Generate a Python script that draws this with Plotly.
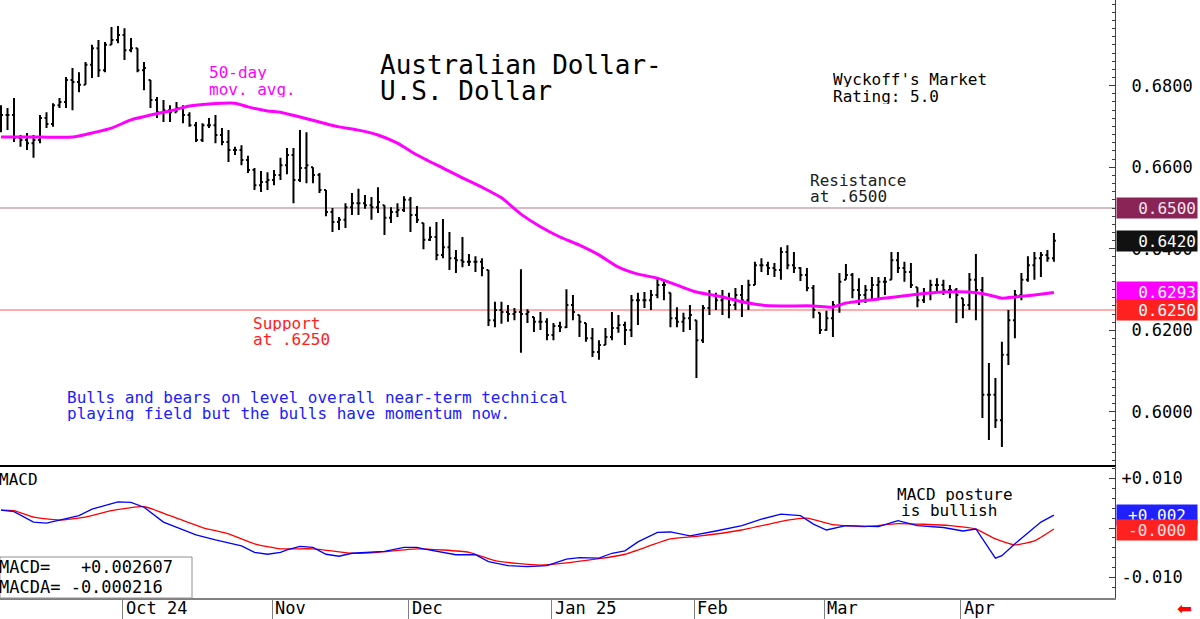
import math
import plotly.graph_objects as go

# ---------------- data ----------------
# one bar per trading day, index 0 = early Sept 2024 ... 162 = Apr 21 2025
opens = [0.6740, 0.6728, 0.6728, 0.6672, 0.6667, 0.6659, 0.6667, 0.6721, 0.6706, 0.6752,
         0.6760, 0.6814, 0.6809, 0.6802, 0.6851, 0.6892, 0.6838, 0.6900, 0.6912, 0.6924,
         0.6887, 0.6892, 0.6838, 0.6814, 0.6765, 0.6735, 0.6740, 0.6735, 0.6745, 0.6728,
         0.6703, 0.6667, 0.6703, 0.6703, 0.6679, 0.6662, 0.6642, 0.6642, 0.6618, 0.6593,
         0.6556, 0.6564, 0.6569, 0.6581, 0.6605, 0.6630, 0.6569, 0.6598, 0.6600, 0.6581,
         0.6544, 0.6490, 0.6466, 0.6471, 0.6502, 0.6512, 0.6512, 0.6507, 0.6502, 0.6507,
         0.6476, 0.6490, 0.6495, 0.6520, 0.6483, 0.6463, 0.6422, 0.6429, 0.6385, 0.6404,
         0.6377, 0.6372, 0.6368, 0.6368, 0.6368, 0.6348, 0.6225, 0.6250, 0.6245, 0.6240,
         0.6245, 0.6240, 0.6233, 0.6221, 0.6221, 0.6189, 0.6211, 0.6208, 0.6262, 0.6238,
         0.6218, 0.6181, 0.6147, 0.6164, 0.6184, 0.6206, 0.6213, 0.6201, 0.6274, 0.6274,
         0.6274, 0.6287, 0.6311, 0.6292, 0.6230, 0.6221, 0.6230, 0.6225, 0.6176, 0.6255,
         0.6287, 0.6274, 0.6279, 0.6262, 0.6287, 0.6274, 0.6311, 0.6360, 0.6360, 0.6353,
         0.6348, 0.6392, 0.6360, 0.6353, 0.6336, 0.6304, 0.6243, 0.6201, 0.6230, 0.6262,
         0.6324, 0.6336, 0.6299, 0.6287, 0.6299, 0.6311, 0.6319, 0.6324, 0.6372, 0.6353,
         0.6343, 0.6306, 0.6274, 0.6292, 0.6311, 0.6311, 0.6299, 0.6299, 0.6279, 0.6262,
         0.6324, 0.6299, 0.6042, 0.6042, 0.5980, 0.6140, 0.6225, 0.6287, 0.6324, 0.6360,
         0.6377, 0.6385, 0.6377]
highs = [0.6752, 0.6745, 0.6770, 0.6679, 0.6684, 0.6679, 0.6728, 0.6735, 0.6757, 0.6770,
         0.6821, 0.6843, 0.6833, 0.6858, 0.6900, 0.6912, 0.6907, 0.6944, 0.6946, 0.6941,
         0.6917, 0.6892, 0.6858, 0.6814, 0.6772, 0.6765, 0.6752, 0.6760, 0.6752, 0.6735,
         0.6711, 0.6708, 0.6721, 0.6728, 0.6696, 0.6691, 0.6650, 0.6654, 0.6628, 0.6598,
         0.6591, 0.6588, 0.6593, 0.6623, 0.6647, 0.6647, 0.6691, 0.6686, 0.6600, 0.6586,
         0.6544, 0.6500, 0.6478, 0.6512, 0.6537, 0.6547, 0.6532, 0.6527, 0.6551, 0.6507,
         0.6502, 0.6512, 0.6529, 0.6527, 0.6505, 0.6463, 0.6454, 0.6466, 0.6473, 0.6441,
         0.6397, 0.6429, 0.6387, 0.6382, 0.6377, 0.6348, 0.6270, 0.6270, 0.6262, 0.6255,
         0.6350, 0.6252, 0.6233, 0.6245, 0.6230, 0.6218, 0.6221, 0.6301, 0.6287, 0.6238,
         0.6218, 0.6206, 0.6176, 0.6206, 0.6245, 0.6238, 0.6221, 0.6287, 0.6292, 0.6294,
         0.6299, 0.6331, 0.6324, 0.6292, 0.6257, 0.6243, 0.6262, 0.6225, 0.6262, 0.6299,
         0.6292, 0.6299, 0.6292, 0.6304, 0.6311, 0.6324, 0.6368, 0.6377, 0.6368, 0.6365,
         0.6404, 0.6409, 0.6392, 0.6355, 0.6353, 0.6311, 0.6243, 0.6248, 0.6272, 0.6341,
         0.6363, 0.6341, 0.6328, 0.6311, 0.6331, 0.6331, 0.6331, 0.6392, 0.6392, 0.6368,
         0.6365, 0.6306, 0.6304, 0.6324, 0.6328, 0.6324, 0.6311, 0.6304, 0.6279, 0.6341,
         0.6387, 0.6331, 0.6120, 0.6083, 0.6172, 0.6250, 0.6299, 0.6341, 0.6382, 0.6392,
         0.6392, 0.6397, 0.6439]
lows = [0.6686, 0.6691, 0.6662, 0.6650, 0.6642, 0.6623, 0.6659, 0.6696, 0.6699, 0.6745,
        0.6745, 0.6740, 0.6784, 0.6802, 0.6819, 0.6821, 0.6833, 0.6900, 0.6904, 0.6863,
        0.6882, 0.6833, 0.6789, 0.6745, 0.6721, 0.6711, 0.6711, 0.6735, 0.6708, 0.6699,
        0.6662, 0.6662, 0.6696, 0.6659, 0.6654, 0.6613, 0.6630, 0.6605, 0.6586, 0.6544,
        0.6539, 0.6544, 0.6556, 0.6569, 0.6583, 0.6512, 0.6564, 0.6561, 0.6561, 0.6537,
        0.6480, 0.6441, 0.6446, 0.6451, 0.6483, 0.6483, 0.6498, 0.6471, 0.6488, 0.6434,
        0.6463, 0.6478, 0.6490, 0.6441, 0.6463, 0.6399, 0.6419, 0.6372, 0.6377, 0.6348,
        0.6341, 0.6355, 0.6358, 0.6343, 0.6333, 0.6211, 0.6208, 0.6216, 0.6221, 0.6225,
        0.6145, 0.6218, 0.6196, 0.6201, 0.6176, 0.6176, 0.6196, 0.6206, 0.6225, 0.6184,
        0.6172, 0.6135, 0.6128, 0.6164, 0.6176, 0.6194, 0.6164, 0.6184, 0.6213, 0.6255,
        0.6250, 0.6279, 0.6274, 0.6208, 0.6208, 0.6196, 0.6201, 0.6083, 0.6169, 0.6238,
        0.6250, 0.6238, 0.6230, 0.6250, 0.6233, 0.6250, 0.6311, 0.6343, 0.6336, 0.6331,
        0.6324, 0.6350, 0.6341, 0.6321, 0.6296, 0.6230, 0.6191, 0.6199, 0.6184, 0.6243,
        0.6324, 0.6279, 0.6262, 0.6267, 0.6274, 0.6274, 0.6287, 0.6324, 0.6341, 0.6319,
        0.6304, 0.6257, 0.6267, 0.6274, 0.6294, 0.6287, 0.6279, 0.6218, 0.6230, 0.6250,
        0.6225, 0.5985, 0.5931, 0.5961, 0.5914, 0.6115, 0.6181, 0.6274, 0.6319, 0.6324,
        0.6331, 0.6368, 0.6368]
closes = [0.6728, 0.6728, 0.6672, 0.6667, 0.6659, 0.6667, 0.6721, 0.6706, 0.6752, 0.6760,
          0.6814, 0.6809, 0.6802, 0.6851, 0.6892, 0.6838, 0.6900, 0.6912, 0.6924, 0.6887,
          0.6892, 0.6838, 0.6843, 0.6765, 0.6735, 0.6740, 0.6735, 0.6745, 0.6728, 0.6703,
          0.6667, 0.6703, 0.6703, 0.6679, 0.6662, 0.6642, 0.6642, 0.6618, 0.6593, 0.6556,
          0.6564, 0.6569, 0.6581, 0.6605, 0.6630, 0.6569, 0.6598, 0.6605, 0.6581, 0.6544,
          0.6490, 0.6466, 0.6471, 0.6502, 0.6512, 0.6512, 0.6507, 0.6502, 0.6515, 0.6476,
          0.6490, 0.6495, 0.6520, 0.6483, 0.6471, 0.6422, 0.6429, 0.6385, 0.6404, 0.6377,
          0.6372, 0.6368, 0.6368, 0.6368, 0.6353, 0.6225, 0.6250, 0.6245, 0.6240, 0.6245,
          0.6240, 0.6245, 0.6221, 0.6221, 0.6189, 0.6211, 0.6208, 0.6262, 0.6245, 0.6221,
          0.6181, 0.6147, 0.6164, 0.6184, 0.6206, 0.6213, 0.6201, 0.6274, 0.6274, 0.6274,
          0.6287, 0.6311, 0.6311, 0.6230, 0.6221, 0.6230, 0.6238, 0.6176, 0.6255, 0.6287,
          0.6274, 0.6279, 0.6262, 0.6287, 0.6274, 0.6311, 0.6360, 0.6360, 0.6353, 0.6348,
          0.6392, 0.6360, 0.6353, 0.6336, 0.6304, 0.6250, 0.6201, 0.6230, 0.6262, 0.6319,
          0.6336, 0.6299, 0.6287, 0.6299, 0.6311, 0.6319, 0.6319, 0.6372, 0.6353, 0.6343,
          0.6311, 0.6274, 0.6292, 0.6311, 0.6311, 0.6299, 0.6299, 0.6287, 0.6262, 0.6324,
          0.6299, 0.6042, 0.6042, 0.5980, 0.6140, 0.6225, 0.6287, 0.6324, 0.6360, 0.6377,
          0.6385, 0.6377, 0.6420]
bar_index = list(range(len(closes)))

# 50-day moving average
ma_index = [0, 6, 11, 14, 17, 20, 23, 26, 29, 32, 36, 38, 41, 43, 46, 49, 52, 55, 58, 61,
            64, 68, 71, 74, 77, 80, 83, 86, 89, 92, 95, 98, 101, 104, 107, 111, 114, 117, 120, 125,
            128, 130, 135, 140, 145, 149, 152, 154, 156, 159, 162]
ma_values = [0.6674, 0.6674, 0.6674, 0.6684, 0.6696, 0.6716, 0.6728, 0.6738, 0.6750, 0.6755,
             0.6757, 0.6748, 0.6738, 0.6735, 0.6723, 0.6711, 0.6699, 0.6691, 0.6679, 0.6659,
             0.6630, 0.6598, 0.6574, 0.6551, 0.6525, 0.6485, 0.6454, 0.6429, 0.6409, 0.6385,
             0.6355, 0.6338, 0.6328, 0.6311, 0.6294, 0.6282, 0.6270, 0.6262, 0.6260, 0.6260,
             0.6257, 0.6267, 0.6277, 0.6287, 0.6294, 0.6294, 0.6287, 0.6279, 0.6282, 0.6287,
             0.6293]

# MACD (blue) and its signal MACDA (red)
macd_index = [0, 2, 5, 7, 9, 12, 14, 16, 18, 20, 22, 25, 27, 30, 33, 37, 39, 41, 43, 44,
              46, 48, 50, 52, 54, 56, 59, 62, 64, 65, 68, 70, 73, 75, 78, 81, 84, 87, 89, 92,
              94, 96, 98, 101, 103, 106, 110, 114, 117, 120, 123, 125, 127, 130, 135, 138, 141, 145, 148, 150,
              153, 154, 156, 160, 162]
macd_values = [0.0036, 0.0033, 0.0012, 0.0010, 0.0016, 0.0025, 0.0038, 0.0045, 0.0053, 0.0052,
               0.0042, 0.0012, 0.0002, -0.0014, -0.0024, -0.0036, -0.0049, -0.0053, -0.0049, -0.0044,
               -0.0037, -0.0039, -0.0053, -0.0057, -0.0051, -0.0049, -0.0047, -0.0039, -0.0039, -0.0042,
               -0.0049, -0.0054, -0.0054, -0.0068, -0.0076, -0.0078, -0.0076, -0.0063, -0.0060, -0.0061,
               -0.0051, -0.0046, -0.0028, -0.0009, -0.0008, -0.0016, -0.0006, 0.0005, 0.0018, 0.0028,
               0.0025, 0.0008, -0.0004, 0.0005, 0.0003, 0.0015, 0.0005, 0.0001, -0.0006, -0.0002,
               -0.0061, -0.0056, -0.0032, 0.0012, 0.0026]
signal_index = [0, 2, 5, 9, 13, 17, 22, 26, 31, 35, 39, 43, 48, 54, 58, 64, 72, 76, 83, 92,
                96, 103, 107, 114, 121, 124, 128, 133, 138, 146, 150, 153, 156, 159, 162]
signal_values = [0.0036, 0.0035, 0.0022, 0.0016, 0.0022, 0.0035, 0.0043, 0.0025, 0.0001, -0.0012,
                 -0.0032, -0.0042, -0.0042, -0.0051, -0.0049, -0.0042, -0.0049, -0.0066, -0.0075, -0.0062,
                 -0.0053, -0.0022, -0.0017, -0.0004, 0.0016, 0.0020, 0.0007, 0.0003, 0.0009, 0.0005,
                 -0.0002, -0.0022, -0.0034, -0.0026, -0.0002]
macd_last_text = "+0.002607"
macda_last_text = "-0.000216"

resistance = 0.6500
support = 0.6250

month_start_index = [19, 42, 63, 85, 107, 127, 148]
month_labels = ["Oct 24", "Nov", "Dec", "Jan 25", "Feb", "Mar", "Apr"]

price_tick_values = [0.60, 0.62, 0.64, 0.66, 0.68]
price_tick_labels = ["0.6000", "0.6200", "0.6400", "0.6600", "0.6800"]
macd_tick_values = [-0.01, 0.0, 0.01]
macd_tick_labels = ["-0.010", "", "+0.010"]

# ---------------- layout helpers ----------------
FONT = "DejaVu Sans Mono"
PLOT_W, PLOT_H = 1115, 598


def px(x):
    return x / PLOT_W


def py(y):
    return (PLOT_H - y) / PLOT_H


def trunc3(v):
    sign = "-" if v < 0 else "+"
    return f"{sign}{math.trunc(abs(v) * 1000) / 1000:.3f}"


fig = go.Figure()

fig.add_trace(go.Ohlc(
    x=bar_index, open=opens, high=highs, low=lows, close=closes,
    increasing=dict(line=dict(color="black", width=2)),
    decreasing=dict(line=dict(color="black", width=2)),
    tickwidth=0.3, xaxis="x", yaxis="y", hoverinfo="skip", showlegend=False))

fig.add_trace(go.Scatter(
    x=ma_index, y=ma_values, mode="lines", xaxis="x", yaxis="y",
    line=dict(color="#ff00ff", width=3, shape="spline", smoothing=0.6),
    hoverinfo="skip", showlegend=False))

fig.add_trace(go.Scatter(
    x=signal_index, y=signal_values, mode="lines", xaxis="x2", yaxis="y2",
    line=dict(color="#ff0000", width=1.3, shape="spline", smoothing=0.5),
    hoverinfo="skip", showlegend=False))
fig.add_trace(go.Scatter(
    x=macd_index, y=macd_values, mode="lines", xaxis="x2", yaxis="y2",
    line=dict(color="#0000ff", width=1.3),
    hoverinfo="skip", showlegend=False))

shapes = [
    dict(type="line", xref="x domain", yref="y", x0=0, x1=1, y0=resistance, y1=resistance,
         line=dict(color="#c8a4ac", width=1.5), layer="below"),
    dict(type="line", xref="x domain", yref="y", x0=0, x1=1, y0=support, y1=support,
         line=dict(color="#ff9090", width=1.5), layer="below"),
    dict(type="rect", xref="paper", yref="paper", x0=0, x1=px(192), y0=0, y1=py(557),
         line=dict(color="#909090", width=1), fillcolor="white"),
]

annotations = []


def text(s, x, y, color="black", size=16, h=15):
    annotations.append(dict(text=s, xref="paper", yref="paper", x=px(x), y=py(y),
                            xanchor="left", yanchor="middle", showarrow=False, height=h,
                            font=dict(family=FONT, size=size, color=color)))


text("Australian Dollar-", 378, 64, size=26, h=25)
text("U.S. Dollar", 378, 90, size=26, h=25)
text("50-day", 207, 72, color="#ff00ff")
text("mov. avg.", 207, 89, color="#ff00ff")
text("Wyckoff's Market", 831, 79)
text("Rating: 5.0", 831, 96)
text("Resistance", 808, 180, color="#202020")
text("at .6500", 808, 196, color="#202020")
text("Support", 251, 323, color="#ff2020")
text("at .6250", 251, 339, color="#ff2020")
text("Bulls and bears on level overall near-term technical", 65, 397, color="#2020ff")
text("playing field but the bulls have momentum now.", 65, 413, color="#2020ff")
text("MACD", -3, 479)
text("MACD posture", 895, 494)
text("is bullish", 899, 510)
text("MACD=   " + macd_last_text, -3, 567, size=17, h=18)
text("MACDA= " + macda_last_text, -3, 587, size=17, h=18)

for idx, lab in zip(month_start_index, month_labels):
    annotations.append(dict(text=lab, xref="x2", yref="paper", x=idx - 0.3, y=py(608),
                            xanchor="left", yanchor="middle", xshift=1, showarrow=False,
                            font=dict(family=FONT, size=17, color="black")))


def value_box(label, yval, yref, bg, fg="white", align="right"):
    annotations.append(dict(text=label, xref="paper", yref=yref, x=1, y=yval,
                            xanchor="left", yanchor="middle", xshift=1, showarrow=False,
                            width=78, height=18, align=align, bgcolor=bg, borderpad=1,
                            font=dict(family=FONT, size=16, color=fg)))


value_box(f"{resistance:.4f}", resistance, "y", "#8b2456", "#f4e4ec")
value_box(f"{closes[-1]:.4f}", closes[-1], "y", "#111111")
value_box(f"{ma_values[-1]:.4f}", ma_values[-1], "y", "#ff00ff")
value_box(f"{support:.4f}", support, "y", "#ff2020")
value_box(trunc3(macd_values[-1]), macd_values[-1], "y2", "#2020ff", align="center")
value_box(trunc3(signal_values[-1]), signal_values[-1] - 0.0003, "y2", "#ff2020", "#ffe0e0",
          align="center")

annotations.append(dict(text="\u2b05", xref="paper", yref="paper", x=px(1184), y=py(608),
                        xanchor="center", yanchor="middle", showarrow=False, height=12,
                        font=dict(family="DejaVu Sans", size=18, color="#ff0000")))

x_range = [-0.154, 171.4]
axis_font = dict(family=FONT, size=17, color="black")

fig.update_layout(
    width=1200, height=619,
    margin=dict(l=0, r=85, t=0, b=21),
    paper_bgcolor="white", plot_bgcolor="white",
    showlegend=False,
    xaxis=dict(domain=[0, 1], anchor="y", range=x_range, showline=True, linecolor="black",
               linewidth=2, showticklabels=False, ticks="", showgrid=False, zeroline=False,
               rangeslider=dict(visible=False)),
    xaxis2=dict(domain=[0, 1], anchor="y2", range=x_range, matches="x", showline=True,
                linecolor="#808080", linewidth=2, ticks="outside", ticklen=21,
                tickcolor="#808080", tickwidth=1,
                tickvals=[i - 0.3 for i in month_start_index],
                showticklabels=False, showgrid=False, zeroline=False),
    yaxis=dict(domain=[py(465), 1], anchor="x", side="right", range=[0.5870, 0.7010],
               showline=True, linecolor="#404040", linewidth=1, mirror=False,
               ticks="inside", ticklen=6, tickcolor="#404040",
               tickvals=price_tick_values, ticktext=price_tick_labels, tickfont=axis_font,
               ticklabelstandoff=12,
               minor=dict(ticks="inside", ticklen=3, dtick=0.002, tickcolor="#404040"),
               showgrid=False, zeroline=False),
    yaxis2=dict(domain=[0, py(466)], anchor="x2", side="right", range=[-0.01414, 0.01253],
                showline=True, linecolor="#404040", linewidth=1,
                ticks="inside", ticklen=6, tickcolor="#404040",
                tickvals=macd_tick_values, ticktext=macd_tick_labels, tickfont=axis_font,
                ticklabelstandoff=2,
                minor=dict(ticks="inside", ticklen=3, dtick=0.002, tickcolor="#404040"),
                showgrid=False, zeroline=False),
    shapes=shapes,
    annotations=annotations,
)

fig.write_html("out.html")
